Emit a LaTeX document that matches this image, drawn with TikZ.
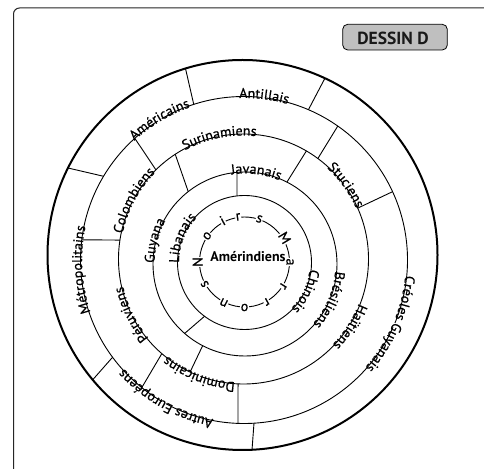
\documentclass[tikz,border=0pt]{standalone}
\usepackage{fontspec}
\setmainfont{PT Sans}
\newfontfamily\labfam{PT Sans}[FakeBold=0.6]
\usetikzlibrary{calc,decorations.text}
\newlength\labwd
\newcommand\lfont{\labfam\fontsize{14}{16}\selectfont}
\newcommand\arclab[4]{%
  \settowidth\labwd{\lfont #4}%
  \pgfmathsetmacro\hs{\labwd/(#2-1.5)*57.2958/2+0.8}%
  \draw[white,line width=3pt] ($(#1)+(#3+\hs:#2)$) arc[start angle=#3+\hs,end angle=#3-\hs,radius=#2];
  \path[decorate,decoration={text along path,text={|\lfont|#4},text align=center}]
    ($(#1)+(#3+80:#2-1.5)$) arc[start angle=#3+80,end angle=#3-80,radius=#2-1.5];
}
\tikzset{
  ring/.style={line width=0.9pt,black},
  outerring/.style={line width=2pt,black},
  spoke/.style={line width=0.9pt,black},
  letter/.style={font=\lfont,anchor=base,fill=white,inner sep=0.6pt},
}
\begin{document}
\begin{tikzpicture}[x=1pt,y=1pt]
\clip (0,0) rectangle (484,468);
\fill[white] (0,0) rectangle (484,468);
% frame
\draw[line width=1pt,black!85,rounded corners=6pt] (13.5,-20) |- (540,460);
% title box
\node[name=dbox,draw,line width=0.8pt,fill=gray!50,rounded corners=5pt,minimum width=104.6pt,minimum height=25.7pt,inner sep=0pt] at (395,430.85) {};
\node[name=dtext,anchor=base,inner sep=0pt,font=\bfseries\fontsize{17.5}{20}\selectfont,text=black!90] at (393,423) {DESSIN D};
% centres
\coordinate (cA) at (244.5,206);
\coordinate (cB) at (244.5,205.5);
\coordinate (cC) at (245,204);
\coordinate (cD) at (243.5,209);
\coordinate (cE) at (244,208);
\coordinate (cF) at (242.5,213);
% circles
\draw[ring] (cA) circle[radius=45];
\draw[ring] (cB) circle[radius=67];
\draw[ring] (cC) circle[radius=92];
\draw[ring] (cD) circle[radius=125];
\draw[ring] (cE) circle[radius=163.5];
\draw[outerring] (cF) circle[radius=195];
% labels on circles
\arclab{cE}{163.5}{83}{Antillais}
\arclab{cE}{163.5}{121}{Américains}
\arclab{cE}{163.5}{183.4}{Métropolitains}
\arclab{cE}{163.5}{240.6}{Autres Européens}
\arclab{cE}{163.5}{336.5}{Créoles Guyanais}
\arclab{cD}{125}{101.2}{Surinamiens}
\arclab{cD}{125}{151.9}{Colombiens}
\arclab{cD}{125}{206.3}{Péruviens}
\arclab{cD}{125}{249}{Dominicains}
\arclab{cD}{125}{327.5}{Haïtiens}
\arclab{cD}{125}{35.8}{Stuciens}
\arclab{cC}{92}{83}{Javanais}
\arclab{cC}{92}{165.4}{Guyana}
\arclab{cC}{92}{337}{Brésiliens}
\arclab{cB}{67}{158.6}{Libanais}
\arclab{cB}{67}{334.8}{Chinois}
% spokes: outer ring
\draw[spoke] ($(cE)+(107.9:163.5)$) -- ($(cF)+(107:195)$);
\draw[spoke] ($(cE)+(66.8:163.5)$) -- ($(cF)+(65:195)$);
\draw[spoke] ($(cE)+(149.2:163.5)$) -- ($(cF)+(153.5:195)$);
\draw[spoke] ($(cE)+(216.5:163.5)$) -- ($(cF)+(219.8:195)$);
\draw[spoke] ($(cE)+(273.5:163.5)$) -- ($(cF)+(272.8:195)$);
% spokes: ring 4-5
\draw[spoke] ($(cD)+(134.5:125)$) -- ($(cE)+(131.9:163.5)$);
\draw[spoke] ($(cD)+(53.5:125)$) -- ($(cE)+(55:163.5)$);
\draw[spoke] ($(cD)+(24:125)$) -- ($(cE)+(24.7:163.5)$);
\draw[spoke] ($(cD)+(171.3:125)$) -- ($(cE)+(172.9:163.5)$);
\draw[spoke] ($(cD)+(229.2:125)$) -- ($(cE)+(231.3:163.5)$);
\draw[spoke] ($(cD)+(267.5:125)$) -- ($(cE)+(267.9:163.5)$);
% spokes: ring 3-4
\draw[spoke] ($(cC)+(128.1:92)$) -- ($(cD)+(123.1:125)$);
\draw[spoke] ($(cC)+(62.9:92)$) -- ($(cD)+(59.8:125)$);
\draw[spoke] ($(cC)+(242.6:92)$) -- ($(cD)+(244.7:125)$);
% spokes: ring 2-3
\draw[spoke] ($(cB)+(96.4:67)$) -- ($(cC)+(95:92)$);
\draw[spoke] ($(cB)+(233.4:67)$) -- ($(cC)+(229:92)$);
% inner circle letters
\foreach \a/\c [count=\i] in {180/N,145/o,118/i,98/r,71/s,31/M,0/a,-32/r,-61/r,-90/o,-117/n,-151/s}
  \node[letter,name=nm\i,rotate=\a-90] at ($(cA)+(\a:42)$) {\c};
\node[name=amer,anchor=base,inner sep=0pt,font=\bfseries\fontsize{14}{16}\selectfont] at (248,206) {Amérindiens};
\end{tikzpicture}
\end{document}
